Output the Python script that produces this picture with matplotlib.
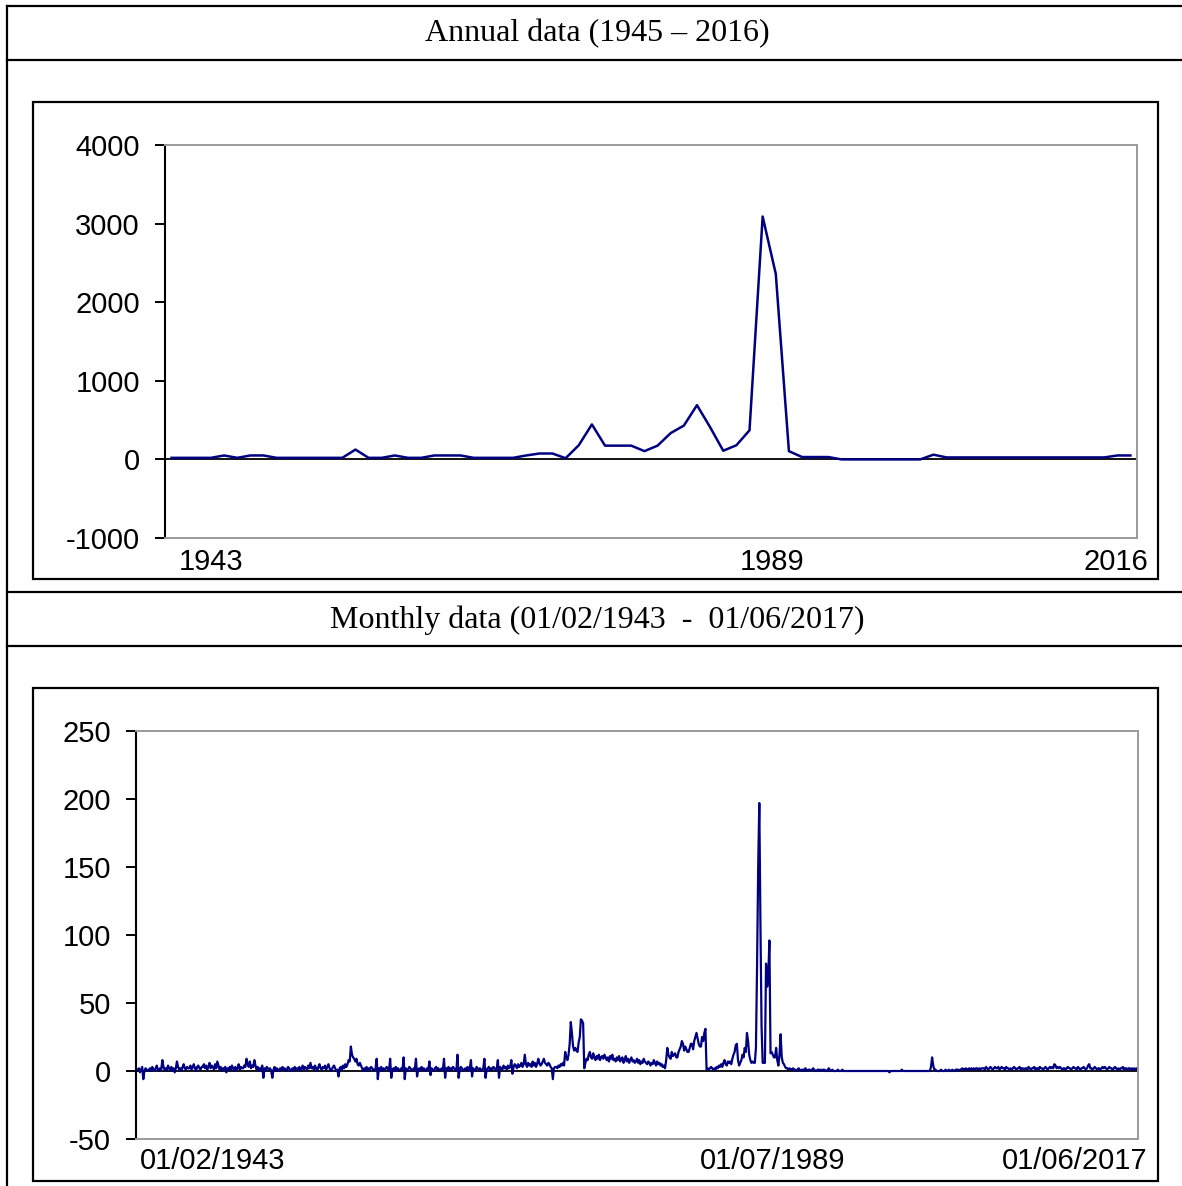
import matplotlib
matplotlib.use("Agg")
import matplotlib.pyplot as plt
from matplotlib.lines import Line2D
from matplotlib.patches import Rectangle
import numpy as np

plt.rcParams["axes.unicode_minus"] = False

W, H = 1182, 1186
NAVY = "#000080"
GRAY = "#9a9a9a"
SANS = "Liberation Sans"
SERIF = "Liberation Serif"

# ---- data -------------------------------------------------------------
annual_years = list(range(1943, 2017))
annual_values = [
    20, 20, 20, 20, 50, 20, 50, 50, 20, 20,
    20, 20, 20, 20, 125, 20, 20, 50, 20, 20,
    50, 50, 50, 20, 20, 20, 20, 50, 75, 75,
    15, 180, 445, 175, 175, 175, 105, 175, 335, 430,
    690, 410, 110, 180, 370, 3090, 2360, 105, 30, 30,
    30, 0, 0, 0, 0, 0, 0, 0, 60, 25,
    25, 25, 25, 25, 25, 25, 25, 25, 25, 25,
    25, 25, 50, 50,
]
annual_xlabels = ["1943", "1989", "2016"]

# monthly series, 01/02/1943 .. 01/06/2017 (one row per year)
monthly_values = [
    1, 0, 2, -1, 1, 3, -6, 0, 2, 1, 0,                  # 1943 (Feb-Dec)
    1, 2, 0, 3, 1, 0, 2, 4, 1, 0, 2, 1,                 # 1944
    8, 3, 1, 2, 0, 4, 2, 1, 3, 0, 2, -1,                # 1945
    2, 7, 3, 1, 2, 0, 3, 5, 2, 1, 3, 2,                 # 1946
    2, 4, 1, 3, 5, 2, 0, 3, 4, 2, 1, 3,                 # 1947
    3, 5, 2, 4, 1, 3, 6, 2, 4, 3, 1, 5,                 # 1948
    2, 7, 4, 1, 3, 0, 2, 1, 3, -1, 2, 1,                # 1949
    3, 1, 4, 2, 0, 3, 1, 2, 5, 1, 3, 2,                 # 1950
    2, 4, 3, 9, 5, 3, 7, 2, 4, 3, 8, 4,                 # 1951
    1, 3, 0, 2, 1, 4, -5, 2, 0, 3, 2, 1,                # 1952
    2, 0, -5, 1, 3, 0, 2, 1, 0, 2, 1, 3,                # 1953
    1, 2, 0, 1, 3, 2, 0, 1, 2, 0, 3, 1,                 # 1954
    2, 1, 3, 0, 2, 4, 1, 3, 2, 1, 4, 2,                 # 1955
    6, 2, 3, 1, 4, 2, 0, 3, 5, 2, 1, 3,                 # 1956
    2, 4, 1, 3, 5, 2, 0, 1, 3, 4, 2, 0,                 # 1957
    1, -4, 2, 3, 1, 4, 2, 5, 3, 5, 8, 7,                # 1958
    18, 12, 10, 9, 7, 9, 5, 4, 6, 4, 2, 0,              # 1959
    2, 1, 3, 0, 2, 1, 3, 2, 1, 0, 2, 9,                 # 1960
    -6, 2, 1, 3, 0, 2, 1, 2, 3, 1, 0, 9,                # 1961
    -5, 1, 2, 0, 3, 1, 2, 0, 1, 2, 1, 10,               # 1962
    -6, 2, 0, 1, 3, 2, 1, 0, 2, 1, 9, -4,               # 1963
    1, 2, 0, 3, 1, 2, 1, 0, 2, 1, 7, -3,                # 1964
    2, 1, 0, 2, 3, 1, 2, 0, 1, 2, 1, 9,                 # 1965
    -5, 2, 1, 3, 0, 2, 1, 3, 2, 1, 0, 12,               # 1966
    -5, 1, 3, 2, 0, 1, 2, 1, 3, 0, 2, 8,                # 1967
    -4, 2, 1, 0, 3, 2, 1, 2, 0, 1, 2, 9,                # 1968
    -5, 1, 2, 3, 0, 2, 1, 3, 2, 1, 2, 8,                # 1969
    -5, 3, 2, 1, 4, 2, 3, 1, 4, 2, 3, 8,                # 1970
    -2, 3, 5, 4, 2, 5, 3, 4, 6, 3, 5, 12,               # 1971
    5, 3, 6, 4, 5, 3, 7, 4, 6, 3, 5, 9,                 # 1972
    6, 4, 5, 7, 9, 6, 5, 4, 6, 5, 3, 2,                 # 1973
    -6, 2, 3, 3, 2, 4, 3, 5, 4, 6, 4, 14,               # 1974
    10, 8, 12, 20, 36, 28, 18, 15, 17, 15, 14, 21,      # 1975
    25, 38, 37, 35, 2, 6, 9, 8, 12, 14, 10, 9,          # 1976
    13, 10, 8, 11, 9, 12, 8, 10, 11, 9, 12, 10,         # 1977
    8, 10, 7, 11, 9, 12, 8, 9, 7, 10, 8, 11,            # 1978
    7, 9, 10, 6, 8, 11, 7, 9, 6, 8, 10, 7,              # 1979
    8, 6, 7, 9, 6, 8, 5, 7, 6, 9, 7, 6,                 # 1980
    5, 7, 6, 4, 6, 5, 8, 6, 4, 7, 5, 6,                 # 1981
    4, 5, 3, 4, 2, 8, 17, 12, 10, 9, 14, 11,            # 1982
    12, 13, 10, 10, 14, 16, 18, 22, 20, 15, 18, 16,     # 1983
    14, 14, 17, 20, 20, 16, 22, 25, 28, 24, 20, 18,     # 1984
    18, 25, 22, 28, 31, 1, 2, 1, 2, 3, 2, 1,            # 1985
    2, 1, 3, 2, 4, 3, 5, 3, 6, 8, 5, 4,                 # 1986
    7, 6, 7, 5, 9, 12, 14, 19, 20, 8, 4, 6,             # 1987
    8, 12, 10, 17, 14, 28, 22, 12, 8, 6, 7, 6,          # 1988
    6, 17, 77, 150, 197, 109, 33, 6, 6, 6, 79, 62,      # 1989
    70, 96, 13, 14, 12, 10, 10, 17, 8, 4, 12, 27,       # 1990
    10, 6, 5, 3, 2, 2, 1, 2, 1, 1, 2, 1,                # 1991
    1, 0, 1, 2, 1, 0, 1, 1, 0, 2, 1, 0,                 # 1992
    1, 1, 0, 1, 2, 1, 0, 0, 1, 1, 0, 1,                 # 1993
    0, 1, 1, 0, 0, 1, 2, 0, 0, 1, 0, 0,                 # 1994
    0, 0, 1, 0, 0, 0, 1, 0, 0, 0, 0, 0,                 # 1995
    0, 0, 0, 0, 0, 0, 0, 0, 0, 0, 0, 0,                 # 1996
    0, 0, 0, 0, 0, 0, 0, 0, 0, 0, 0, 0,                 # 1997
    0, 0, 0, 0, 0, 0, 0, 0, 0, 0, 0, 0,                 # 1998
    -1, 0, 0, 0, 0, 0, 0, 0, 0, 0, 0, 1,                # 1999
    0, 0, 0, 0, 0, 0, 0, 0, 0, 0, 0, 0,                 # 2000
    0, 0, 0, 0, 0, 0, 0, 0, 0, 0, 0, 0,                 # 2001
    0, 3, 10, 4, 1, 1, 0, 0, 0, 0, 1, 0,                # 2002
    0, 0, 1, 0, 0, 1, 0, 0, 1, 0, 0, 1,                 # 2003
    1, 1, 0, 1, 1, 2, 1, 1, 2, 1, 1, 2,                 # 2004
    1, 2, 1, 2, 1, 2, 2, 1, 2, 1, 2, 2,                 # 2005
    2, 1, 3, 2, 1, 2, 3, 2, 1, 2, 3, 2,                 # 2006
    2, 3, 1, 2, 3, 2, 2, 1, 3, 2, 2, 1,                 # 2007
    2, 1, 2, 3, 2, 1, 2, 2, 3, 1, 2, 2,                 # 2008
    1, 2, 2, 1, 3, 2, 1, 2, 2, 3, 1, 2,                 # 2009
    2, 1, 3, 2, 2, 1, 2, 3, 2, 1, 2, 3,                 # 2010
    2, 3, 2, 5, 4, 2, 3, 2, 3, 2, 1, 2,                 # 2011
    2, 1, 2, 3, 2, 2, 1, 2, 3, 2, 2, 1,                 # 2012
    3, 2, 1, 2, 2, 3, 2, 1, 2, 4, 5, 2,                 # 2013
    2, 1, 2, 3, 2, 1, 2, 2, 1, 2, 3, 2,                 # 2014
    3, 2, 1, 2, 3, 2, 2, 1, 2, 3, 2, 1,                 # 2015
    2, 1, 2, 2, 3, 1, 2, 2, 1, 2, 2, 1,                 # 2016
    2, 1, 2, 1, 2, 1,                                   # 2017 (Jan-Jun)
]
monthly_xlabels = ["01/02/1943", "01/07/1989", "01/06/2017"]


def px_rect(left, top, right, bottom):
    """pixel box -> figure fraction [l, b, w, h]"""
    return [left / W, 1 - bottom / H, (right - left) / W, (bottom - top) / H]


def style_axes(ax, ymin, ymax, step, pad):
    ax.set_ylim(ymin, ymax)
    ax.set_yticks(np.arange(ymin, ymax + step, step))
    ax.set_xticks([])
    ax.axhline(0, color="black", lw=1.3, zorder=1)
    for side in ("top", "right", "bottom"):
        ax.spines[side].set_color(GRAY)
        ax.spines[side].set_linewidth(1.4)
    ax.spines["left"].set_color("black")
    ax.spines["left"].set_linewidth(1.5)
    ax.tick_params(axis="y", direction="out", length=7, width=1.4,
                   pad=pad, labelsize=21)
    for lab in ax.get_yticklabels():
        lab.set_fontfamily(SANS)


fig = plt.figure(figsize=(W / 100, H / 100), dpi=100)

# table grid
lw_tab = 1.6
for yy in (6, 60, 592, 646):
    fig.add_artist(Line2D([7 / W, 1], [1 - yy / H] * 2, color="black",
                          lw=lw_tab, transform=fig.transFigure))
fig.add_artist(Line2D([7 / W] * 2, [1 - 6 / H, 0], color="black",
                      lw=lw_tab, transform=fig.transFigure))

fig.text(597 / W, 1 - 34 / H, "Annual data (1945 \u2013 2016)",
         ha="center", va="center", fontsize=23, family=SERIF)
fig.text(597 / W, 1 - 620 / H, "Monthly data (01/02/1943  -  01/06/2017)",
         ha="center", va="center", fontsize=23, family=SERIF)

# chart frames
for (l, t, r, b) in ((33, 102, 1158, 579), (33, 688, 1158, 1181)):
    fig.add_artist(Rectangle((l / W, 1 - b / H), (r - l) / W, (b - t) / H,
                             fill=False, ec="black", lw=1.6,
                             transform=fig.transFigure))

# annual chart
ax1 = fig.add_axes(px_rect(165, 145, 1137, 538))
ax1.plot(annual_years, annual_values, color=NAVY, lw=1.8, zorder=2)
ax1.set_xlim(annual_years[0] - 0.5, annual_years[-1] + 0.5)
style_axes(ax1, -1000, 4000, 1000, pad=11)
for frac, lab in zip((0.047, 0.6245, 0.978), annual_xlabels):
    ax1.text(frac, -0.061, lab, transform=ax1.transAxes, ha="center",
             va="center", fontsize=21, family=SANS)

# monthly chart
ax2 = fig.add_axes(px_rect(136, 731, 1138, 1139))
idx = np.arange(len(monthly_values))
ax2.plot(idx, monthly_values, color=NAVY, lw=1.6, zorder=2)
ax2.set_xlim(-0.5, len(monthly_values) - 0.5)
style_axes(ax2, -50, 250, 50, pad=11)
for frac, lab in zip((0.076, 0.635, 0.937), monthly_xlabels):
    ax2.text(frac, -0.054, lab, transform=ax2.transAxes, ha="center",
             va="center", fontsize=21, family=SANS)

fig.savefig("out.png", dpi=100)
